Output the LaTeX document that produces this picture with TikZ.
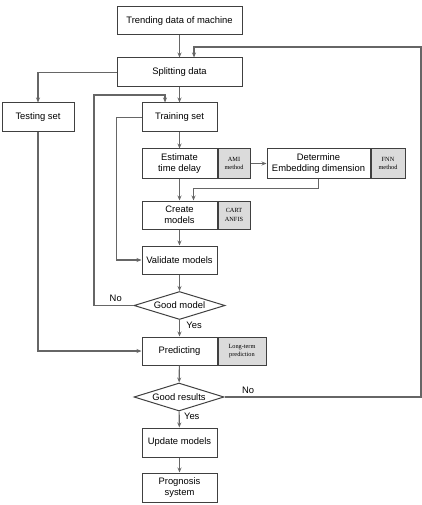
\documentclass[tikz,border=0pt]{standalone}
\usepackage{fontspec}
\setmainfont{Liberation Sans}
\newfontfamily\labelserif{Liberation Serif}
\usetikzlibrary{shapes.geometric,arrows.meta,positioning}

\begin{document}
\begin{tikzpicture}[x=1pt,y=-1pt,
    font=\fontsize{9.4}{11}\selectfont,
    box/.style={draw=black!75,line width=1pt,minimum width=75pt,minimum height=29pt,inner sep=1pt,align=center},
    side/.style={draw=black!75,fill=black!14,line width=1pt,minimum height=29pt,inner sep=0pt,align=center,
        font=\labelserif\fontsize{6.3}{8.5}\selectfont},
    decision/.style={diamond,draw=black!75,line width=1pt,minimum width=91pt,minimum height=28pt,inner sep=0pt,aspect=3},
    line/.style={draw=black!60,line width=1.1pt},
    arr/.style={line,-{Stealth[length=5pt,width=4pt]}}]
    \useasboundingbox (0,0) rectangle (422,505);
    \node[box,minimum width=125pt,minimum height=28pt] (trend) at (179.5,21) {Trending data of machine};
    \node[box,minimum width=125pt] (split) at (179.5,72.5) {Splitting data};
    \node[box,minimum width=72pt] (test) at (38,117.5) {Testing set};
    \node[box] (train) at (179.5,117.5) {Training set};
    \node[box] (est) at (179.5,163.5) {Estimate\\time delay};
    \node[side,minimum width=32pt,right=0pt of est] (ami) {AMI\\method};
    \node[box,minimum width=103pt] (det) at (318.5,163.5) {Determine\\Embedding dimension};
    \node[side,minimum width=34pt,right=0pt of det] (fnn) {FNN\\method};
    \node[box,minimum height=28pt] (create) at (179.5,215) {Create\\models};
    \node[side,minimum width=32pt,minimum height=28pt,right=0pt of create] (cart) {CART\\ANFIS};
    \node[box,minimum height=28pt] (valid) at (179.5,260) {Validate models};
    \node[decision] (goodm) at (179.5,305.5) {Good model};
    \node[box,minimum height=28pt] (pred) at (179.5,351) {Predicting};
    \node[side,minimum width=48pt,minimum height=28pt,right=0pt of pred] (lterm) {Long-term\\prediction};
    \node[decision,minimum width=90pt] (goodr) at (179,397) {Good results};
    \node[box] (upd) at (179.5,442.5) {Update models};
    \node[box] (prog) at (179.5,487.5) {Prognosis\\system};
    \coordinate (rtop) at (421,47);
    \coordinate (ltop) at (94,95);

    \draw[arr] (trend) -- (split);
    \draw[arr] (split.west) -| (test.north);
    \draw[arr] (split) -- (train);
    \draw[arr] (train.west) -- ++(-25,0) |- (valid.west);
    \draw[arr] (train) -- (est);
    \draw[arr] (ami) -- (det);
    \draw[arr] (est) -- (create);
    \draw[arr] (det.south) -- ++(0,10) -| ([xshift=14pt]create.north);
    \draw[arr] (create) -- (valid);
    \draw[arr] (valid) -- (goodm);
    \draw[arr] (goodm.west) -- node[above,pos=0.45] {No} (goodm.west -| ltop) -- (ltop) -| ([xshift=-14.5pt]train.north);
    \draw[arr] (goodm) -- node[right,pos=0.35,xshift=3pt] {Yes} (pred);
    \draw[arr] (test.south) |- (pred.west);
    \draw[arr] (pred) -- (goodr);
    \draw[arr] (goodr.east) -- node[above,pos=0.12] {No} (goodr.east -| rtop) -- (rtop) -| ([xshift=14.5pt]split.north);
    \draw[arr] (goodr) -- node[right,pos=0.3,xshift=1pt] {Yes} (upd);
    \draw[arr] (upd) -- (prog);
\end{tikzpicture}
\end{document}
